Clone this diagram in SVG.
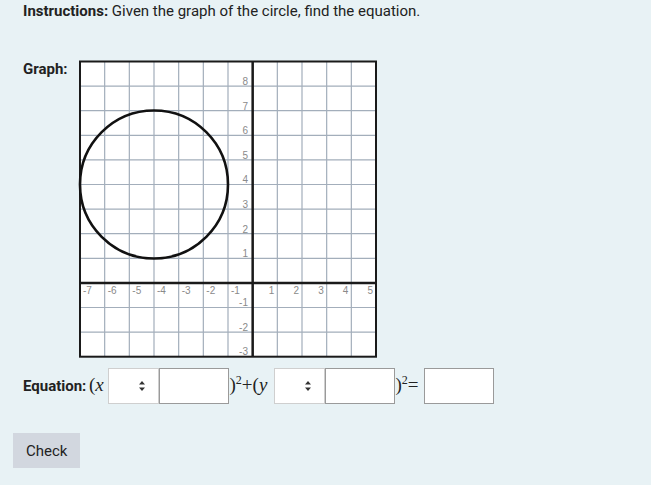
<svg xmlns="http://www.w3.org/2000/svg" width="651" height="485" viewBox="0 0 651 485">
<style>
.t{font-family:Roboto,"Liberation Sans",sans-serif;fill:#222;font-size:15px}
.b{font-weight:bold}
.g{stroke:#a3aebb;stroke-width:1.2;fill:none}
.ax{stroke:#1a1a1a;stroke-width:2.5}
.yl{font-family:"Liberation Sans",Arial,sans-serif;font-size:10px;fill:#8a8a8a;text-anchor:end}
.xl{font-family:"Liberation Sans",Arial,sans-serif;font-size:10px;fill:#8a8a8a}
.xr{text-anchor:end}
.m{font-family:"Liberation Serif","Times New Roman",serif;font-size:19px;fill:#222}
.i{font-style:italic}
.sel{fill:#fff;stroke:#cfcfcf;stroke-width:1}
.inp{fill:#fff;stroke:#9a9a9a;stroke-width:1}
</style>
<rect width="651" height="485" fill="#e8f2f5"/>
<text class="t" x="23" y="16"><tspan class="b">Instructions:</tspan> Given the graph of the circle, find the equation.</text>
<text class="t b" x="23" y="74" font-size="14">Graph:</text>
<g id="graph">
<rect x="80" y="61.5" width="296" height="295.2" fill="#fff"/>
<g class="g">
<path d="M104.67 61.5V356.7M129.33 61.5V356.7M154 61.5V356.7M178.67 61.5V356.7M203.33 61.5V356.7M228 61.5V356.7M277.33 61.5V356.7M302 61.5V356.7M326.67 61.5V356.7M351.33 61.5V356.7"/>
<path d="M80 86.1H376M80 110.7H376M80 135.3H376M80 159.9H376M80 184.5H376M80 209.1H376M80 233.7H376M80 258.3H376M80 307.5H376M80 332.1H376"/>
</g>
<path class="ax" d="M252.67 61.5V356.7M80 282.9H376"/>
<rect x="80" y="61.5" width="296" height="295.2" fill="none" stroke="#1a1a1a" stroke-width="2"/>
<g>
<text class="yl" x="248" y="85">8</text>
<text class="yl" x="248" y="109.6">7</text>
<text class="yl" x="248" y="134.2">6</text>
<text class="yl" x="248" y="158.8">5</text>
<text class="yl" x="248" y="183.4">4</text>
<text class="yl" x="248" y="208">3</text>
<text class="yl" x="248" y="232.6">2</text>
<text class="yl" x="248" y="257.2">1</text>
<text class="yl" x="248" y="306.4">-1</text>
<text class="yl" x="248" y="331">-2</text>
<text class="yl" x="248" y="355">-3</text>
</g>
<g>
<text class="xl" x="83" y="294">-7</text>
<text class="xl" x="107.7" y="294">-6</text>
<text class="xl" x="132.3" y="294">-5</text>
<text class="xl" x="157" y="294">-4</text>
<text class="xl" x="181.7" y="294">-3</text>
<text class="xl" x="206.3" y="294">-2</text>
<text class="xl" x="231" y="294">-1</text>
<text class="xl xr" x="274.3" y="294">1</text>
<text class="xl xr" x="299" y="294">2</text>
<text class="xl xr" x="323.7" y="294">3</text>
<text class="xl xr" x="348.3" y="294">4</text>
<text class="xl xr" x="373" y="294">5</text>
</g>
<circle cx="154" cy="184.5" r="74" fill="none" stroke="#111" stroke-width="2.6"/>
</g>
<g id="equation">
<text class="t b" x="23" y="391">Equation:</text>
<text class="m" x="89" y="391">(<tspan class="i">x</tspan></text>
<g id="sel1"><rect class="sel" x="108.5" y="368.5" width="50" height="35"/><path d="M139 384.5l3-3.5 3 3.5zM139 387.5l3 3.5 3-3.5z" fill="#333"/></g>
<rect id="inp1" class="inp" x="159.5" y="368.5" width="69" height="35"/>
<text class="m" x="229.5" y="391">)<tspan font-size="12" dy="-7">2</tspan><tspan dy="7">+(</tspan><tspan class="i">y</tspan></text>
<g id="sel2"><rect class="sel" x="274.5" y="368.5" width="50" height="35"/><path d="M305 384.5l3-3.5 3 3.5zM305 387.5l3 3.5 3-3.5z" fill="#333"/></g>
<rect id="inp2" class="inp" x="325.5" y="368.5" width="69" height="35"/>
<text class="m" x="395.5" y="391">)<tspan font-size="12" dy="-7">2</tspan><tspan dy="7">=</tspan></text>
<rect id="inp3" class="inp" x="424.5" y="368.5" width="69" height="35"/>
</g>
<g id="check">
<rect x="13" y="433" width="67" height="35" fill="#d2d7df"/>
<text class="t" x="26" y="456" font-size="15" fill="#333">Check</text>
</g>
</svg>
